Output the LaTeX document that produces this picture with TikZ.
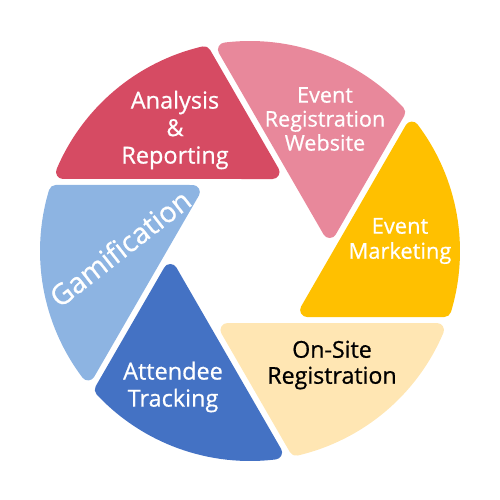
\documentclass[tikz,border=0pt]{standalone}
\usepackage{fontspec}
\setmainfont{Open Sans}[FakeBold=0.7]

\definecolor{anaRed}{RGB}{214,75,99}
\definecolor{webPink}{RGB}{232,136,155}
\definecolor{mktGold}{RGB}{255,192,0}
\definecolor{siteCream}{RGB}{255,230,179}
\definecolor{trackBlue}{RGB}{68,114,196}
\definecolor{gameBlue}{RGB}{141,180,226}

\tikzset{every picture/.style={line width=0.75pt}}
\tikzset{
  blade/.style={fill=#1, draw=#1, line width=10.5pt, line join=round},
  bladelabel/.style={inner sep=0.75pt, align=center, text=white},
}

\begin{document}
\begin{tikzpicture}[x=0.75pt,y=0.75pt,yscale=-1,xscale=1]
\useasboundingbox (0,0) rectangle (500,500);

%Blades of the aperture, one shape turned six times
\foreach \ang/\col in {0/anaRed, 60/webPink, 120/mktGold, 180/siteCream, 240/trackBlue, 300/gameBlue}{
  \begin{scope}[shift={(250,251)}, rotate=\ang]
    \draw [blade=\col] (22.52,-79) -- (-157.09:203) arc [start angle=-157.09, end angle=-103.10, radius=203] -- cycle ;
  \end{scope}
}

% Text Node
\node (analysis) [bladelabel, font=\fontsize{17.6}{20.6}\selectfont] at (175,130) {Analysis\\\&\\Reporting};
% Text Node
\node (website) [bladelabel, font=\fontsize{16.2}{18}\selectfont] at (325,119) {Event\\Registration\\Website};
% Text Node
\node (marketing) [bladelabel, font=\fontsize{16.4}{18.8}\selectfont] at (400,241) {Event\\Marketing};
% Text Node
\node (onsite) [bladelabel, text=black, font=\fontsize{17.4}{19.5}\selectfont] at (332,365) {On-Site\\Registration};
% Text Node
\node (tracking) [bladelabel, font=\fontsize{17.6}{20.3}\selectfont] at (173,387) {Attendee\\Tracking};
% Text Node
\node (gamification) [bladelabel, rotate=38, font=\fontsize{21.5}{24}\selectfont] at (120,248) {Gamification};

\end{tikzpicture}
\end{document}
